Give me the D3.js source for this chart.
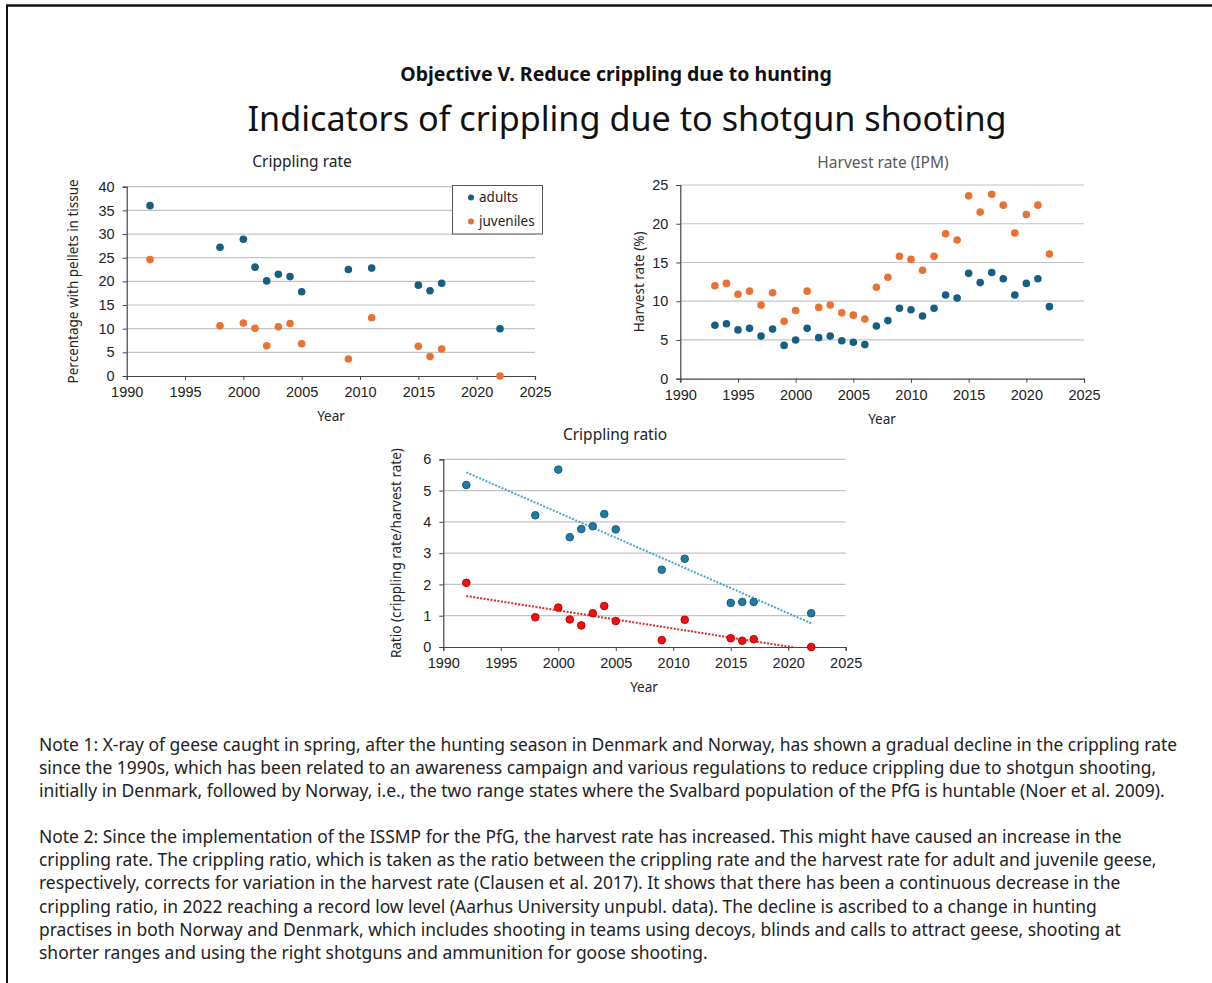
<!DOCTYPE html>
<html>
<head>
<meta charset="utf-8">
<script src="https://cdn.jsdelivr.net/npm/d3@7"></script>
<style>
  html, body { margin: 0; padding: 0; background: #fff; }
  svg { display: block; }
  text { font-family: "Noto Sans", "Open Sans", sans-serif; }
</style>
</head>
<body>
<svg id="page" width="1212" height="983"></svg>
<script>
// ---- Crippling rate (% with pellets in tissue) ----
const crippleYears = [1992, 1998, 2000, 2001, 2002, 2003, 2004, 2005, 2009, 2011, 2015, 2016, 2017, 2022];
const crippleAdults = [36.0, 27.2, 28.9, 23.0, 20.1, 21.5, 21.0, 17.8, 22.5, 22.8, 19.2, 18.0, 19.6, 10.0];
const crippleJuveniles = [24.6, 10.6, 11.2, 10.1, 6.4, 10.4, 11.1, 6.8, 3.6, 12.3, 6.3, 4.1, 5.7, 0.0];

// ---- Harvest rate (IPM, %) ----
const harvestYears = [1993, 1994, 1995, 1996, 1997, 1998, 1999, 2000, 2001, 2002, 2003, 2004, 2005, 2006, 2007,
                      2008, 2009, 2010, 2011, 2012, 2013, 2014, 2015, 2016, 2017, 2018, 2019, 2020, 2021, 2022];
const harvestAdults = [6.9, 7.1, 6.3, 6.5, 5.5, 6.4, 4.3, 5.0, 6.5, 5.3, 5.5, 4.9, 4.7, 4.4, 6.8,
                       7.5, 9.1, 8.9, 8.1, 9.1, 10.8, 10.4, 13.6, 12.4, 13.7, 12.9, 10.8, 12.3, 12.9, 9.3];
const harvestJuveniles = [12.0, 12.3, 10.9, 11.3, 9.5, 11.1, 7.4, 8.8, 11.3, 9.2, 9.5, 8.5, 8.2, 7.7, 11.8,
                          13.1, 15.8, 15.4, 14.0, 15.8, 18.7, 17.9, 23.6, 21.5, 23.8, 22.4, 18.8, 21.2, 22.4, 16.1];

// ---- Crippling ratio (crippling rate / harvest rate) ----
const ratioYears = [1992, 1998, 2000, 2001, 2002, 2003, 2004, 2005, 2009, 2011, 2015, 2016, 2017, 2022];
const ratioAdults = [5.18, 4.21, 5.67, 3.51, 3.77, 3.86, 4.25, 3.76, 2.47, 2.82, 1.41, 1.44, 1.44, 1.08];
const ratioJuveniles = [2.05, 0.95, 1.26, 0.88, 0.69, 1.08, 1.31, 0.83, 0.22, 0.87, 0.28, 0.20, 0.25, 0.00];

// ---- Axis ticks ----
const yearTicks = [1990, 1995, 2000, 2005, 2010, 2015, 2020, 2025];
const crippleTicks = [0, 5, 10, 15, 20, 25, 30, 35, 40];
const harvestTicks = [0, 5, 10, 15, 20, 25];
const ratioTicks = [0, 1, 2, 3, 4, 5, 6];

// ---- Text ----
const subtitle = "Objective V. Reduce crippling due to hunting";
const mainTitle = "Indicators of crippling due to shotgun shooting";
const legendLabels = ["adults", "juveniles"];
const note1Lines = [
  "Note 1: X-ray of geese caught in spring, after the hunting season in Denmark and Norway, has shown a gradual decline in the crippling rate",
  "since the 1990s, which has been related to an awareness campaign and various regulations to reduce crippling due to shotgun shooting,",
  "initially in Denmark, followed by Norway, i.e., the two range states where the Svalbard population of the PfG is huntable (Noer et al. 2009)."
];
const note2Lines = [
  "Note 2: Since the implementation of the ISSMP for the PfG, the harvest rate has increased. This might have caused an increase in the",
  "crippling rate. The crippling ratio, which is taken as the ratio between the crippling rate and the harvest rate for adult and juvenile geese,",
  "respectively, corrects for variation in the harvest rate (Clausen et al. 2017). It shows that there has been a continuous decrease in the",
  "crippling ratio, in 2022 reaching a record low level (Aarhus University unpubl. data). The decline is ascribed to a change in hunting",
  "practises in both Norway and Denmark, which includes shooting in teams using decoys, blinds and calls to attract geese, shooting at",
  "shorter ranges and using the right shotguns and ammunition for goose shooting."
];

const TICK_FONT = "'Liberation Sans', Arial, sans-serif";

const svg = d3.select("#page");
svg.append("rect").attr("width", 1212).attr("height", 983).attr("fill", "#fff");

// frame lines along the top and left edges
svg.append("line").attr("x1", 6).attr("x2", 1212).attr("y1", 5.5).attr("y2", 5.5)
  .attr("stroke", "#111").attr("stroke-width", 2.5);
svg.append("line").attr("x1", 7).attr("x2", 7).attr("y1", 5).attr("y2", 983)
  .attr("stroke", "#111").attr("stroke-width", 2);

// headings
svg.append("text").attr("x", 616).attr("y", 81).attr("text-anchor", "middle")
  .attr("font-size", 19.5).attr("font-weight", 700).attr("fill", "#111").text(subtitle);
svg.append("text").attr("x", 627).attr("y", 131).attr("text-anchor", "middle")
  .attr("font-size", 34.2).attr("fill", "#111").text(mainTitle);

// one scatter panel with gridlines, axes and titles
function panel(opts) {
  const g = svg.append("g");
  const x = d3.scaleLinear().domain([1990, 2025]).range([opts.left, opts.right]);
  const y = d3.scaleLinear().domain([0, opts.yMax]).range([opts.bottom, opts.top]);

  // horizontal gridlines
  g.selectAll("line.grid").data(opts.yTicks.filter(v => v > 0)).join("line")
    .attr("x1", opts.left).attr("x2", opts.right)
    .attr("y1", d => y(d)).attr("y2", d => y(d))
    .attr("stroke", "#c4c4c4").attr("stroke-width", 1.2);

  // y axis
  const ya = g.append("g").attr("transform", `translate(${opts.left},0)`)
    .call(d3.axisLeft(y).tickValues(opts.yTicks).tickSize(4).tickPadding(8).tickFormat(d3.format("d")));
  ya.select(".domain").attr("stroke", "#444").attr("stroke-width", 1.2);
  ya.selectAll(".tick line").attr("stroke", "#444");
  ya.selectAll("text").attr("font-size", 14.5).attr("fill", "#222").style("font-family", TICK_FONT);

  // x axis
  const xa = g.append("g").attr("transform", `translate(0,${opts.bottom})`)
    .call(d3.axisBottom(x).tickValues(yearTicks).tickSize(4).tickPadding(7).tickFormat(d3.format("d")));
  xa.select(".domain").attr("stroke", "#444").attr("stroke-width", 1.2);
  xa.selectAll(".tick line").attr("stroke", "#444");
  xa.selectAll("text").attr("font-size", 14.5).attr("fill", "#222").style("font-family", TICK_FONT);

  // titles
  g.append("text").attr("x", opts.titleX).attr("y", opts.top - opts.titleGap).attr("text-anchor", "middle")
    .attr("font-size", 15.5).attr("fill", opts.titleColor).text(opts.title);
  g.append("text").attr("x", opts.xLabelX).attr("y", opts.bottom + 45).attr("text-anchor", "middle")
    .attr("font-size", 13.5).attr("fill", "#222").text("Year");
  g.append("text")
    .attr("transform", `translate(${opts.yLabelX},${(opts.top + opts.bottom) / 2}) rotate(-90)`)
    .attr("text-anchor", "middle").attr("font-size", 13.5).attr("fill", "#222").text(opts.yLabel);

  return { g, x, y };
}

function dots(p, years, values, color, r, stroke) {
  p.g.append("g").selectAll("circle").data(years.map((yr, i) => [yr, values[i]])).join("circle")
    .attr("cx", d => p.x(d[0])).attr("cy", d => p.y(d[1])).attr("r", r)
    .attr("fill", color)
    .attr("stroke", stroke || "none").attr("stroke-width", stroke ? 1 : 0);
}

const BLUE = "#155f82";
const ORANGE = "#e97132";

// ---- Panel 1: crippling rate ----
const p1 = panel({
  left: 126.7, right: 535, top: 186.7, bottom: 376, yMax: 40, yTicks: crippleTicks,
  title: "Crippling rate", titleX: 302, titleGap: 20, titleColor: "#222",
  xLabelX: 331, yLabel: "Percentage with pellets in tissue", yLabelX: 78
});
dots(p1, crippleYears, crippleAdults, BLUE, 3.8);
dots(p1, crippleYears, crippleJuveniles, ORANGE, 3.8);

// legend
const lg = p1.g.append("g");
lg.append("rect").attr("x", 452.5).attr("y", 185.5).attr("width", 90).attr("height", 48.5)
  .attr("fill", "#fff").attr("stroke", "#555").attr("stroke-width", 1);
[BLUE, ORANGE].forEach((c, i) => {
  lg.append("circle").attr("cx", 471).attr("cy", 197.5 + i * 24).attr("r", 3).attr("fill", c);
  lg.append("text").attr("x", 479).attr("y", 202 + i * 24).attr("font-size", 13.5)
    .attr("fill", "#222").text(legendLabels[i]);
});

// ---- Panel 2: harvest rate ----
const p2 = panel({
  left: 680.3, right: 1084, top: 185, bottom: 378.7, yMax: 25, yTicks: harvestTicks,
  title: "Harvest rate (IPM)", titleX: 883, titleGap: 17, titleColor: "#595959",
  xLabelX: 882, yLabel: "Harvest rate (%)", yLabelX: 644
});
dots(p2, harvestYears, harvestAdults, BLUE, 3.8);
dots(p2, harvestYears, harvestJuveniles, ORANGE, 3.8);

// ---- Panel 3: crippling ratio with linear trends ----
const p3 = panel({
  left: 443.3, right: 845.7, top: 459.3, bottom: 647, yMax: 6, yTicks: ratioTicks,
  title: "Crippling ratio", titleX: 615, titleGap: 19, titleColor: "#222",
  xLabelX: 644, yLabel: "Ratio (crippling rate/harvest rate)", yLabelX: 401
});

svg.append("defs").append("clipPath").attr("id", "clip3").append("rect")
  .attr("x", 443.3).attr("y", 459.3).attr("width", 845.7 - 443.3).attr("height", 647 - 459.3);

function linearFit(xs, ys) {
  const mx = d3.mean(xs), my = d3.mean(ys);
  let sxy = 0, sxx = 0;
  xs.forEach((v, i) => { sxy += (v - mx) * (ys[i] - my); sxx += (v - mx) * (v - mx); });
  const b = sxy / sxx;
  return v => my + b * (v - mx);
}

function trend(p, years, values, color) {
  const f = linearFit(years, values);
  const x0 = d3.min(years), x1 = d3.max(years);
  p.g.append("line").attr("clip-path", "url(#clip3)")
    .attr("x1", p.x(x0)).attr("y1", p.y(f(x0)))
    .attr("x2", p.x(x1)).attr("y2", p.y(f(x1)))
    .attr("stroke", color).attr("stroke-width", 2).attr("stroke-dasharray", "2,1.5");
}

trend(p3, ratioYears, ratioAdults, "#45a6d3");
trend(p3, ratioYears, ratioJuveniles, "#d62a2a");
dots(p3, ratioYears, ratioAdults, "#1f7ba6", 3.8, "#175d80");
dots(p3, ratioYears, ratioJuveniles, "#f01010", 3.8, "#c00000");

// ---- Notes ----
const notes = svg.append("g").attr("font-size", 17.45).attr("fill", "#222");
note1Lines.forEach((t, i) => {
  notes.append("text").attr("x", 39).attr("y", 751 + i * 23.2).text(t);
});
note2Lines.forEach((t, i) => {
  notes.append("text").attr("x", 39).attr("y", 843 + i * 23.2).text(t);
});
</script>
</body>
</html>
